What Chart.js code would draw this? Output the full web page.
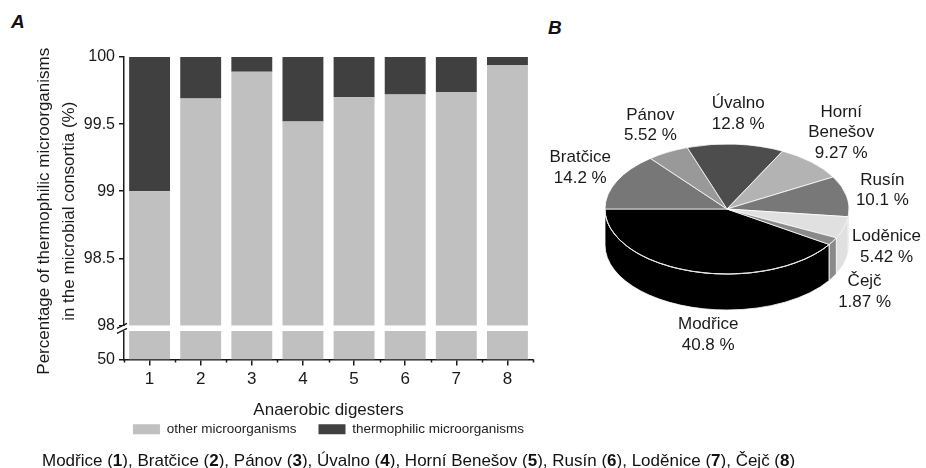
<!DOCTYPE html>
<html>
<head>
<meta charset="utf-8">
<script src="https://cdn.jsdelivr.net/npm/chart.js@4.4.1/dist/chart.umd.min.js"></script>
<style>
  html, body { margin: 0; padding: 0; background: #fff; }
  body { width: 926px; height: 468px; position: relative; overflow: hidden;
         font-family: "Liberation Sans", Arial, sans-serif; color: #111; }
  #barCanvas { position: absolute; left: 0; top: 0; }
  #pieCanvas { position: absolute; left: 540px; top: 0; }
  .panel { position: absolute; font-weight: bold; font-style: italic; font-size: 19px; }
  #caption { position: absolute; left: 42px; top: 451px; font-size: 17px; line-height: 20px;
             white-space: nowrap; color: #111; }
</style>
</head>
<body>
<div class="panel" style="left:11px; top:11px;">A</div>
<div class="panel" style="left:548px; top:17px;">B</div>
<canvas id="barCanvas" width="560" height="468"></canvas>
<canvas id="pieCanvas" width="386" height="468"></canvas>
<div id="caption"></div>

<script>
// Digesters (x categories) and the sites they belong to
const digesters = ['1', '2', '3', '4', '5', '6', '7', '8'];
const siteNames = ['Modřice', 'Bratčice', 'Pánov', 'Úvalno', 'Horní Benešov', 'Rusín', 'Loděnice', 'Čejč'];

// Share of each group in the microbial consortium (%)
const otherPct  = [99.00, 99.69, 99.89, 99.52, 99.70, 99.72, 99.74, 99.94];
const thermoPct = [1.00, 0.31, 0.11, 0.48, 0.30, 0.28, 0.26, 0.06];

// Split between the digesters of all thermophilic reads (%)
const thermoShare = [40.8, 14.2, 5.52, 12.8, 9.27, 10.1, 5.42, 1.87];

const seriesNames = ['other microorganisms', 'thermophilic microorganisms'];
const lowerTicks = [50, 75];

const UPPER_MIN = 98, UPPER_MAX = 100, LOWER_MIN = 50;
const INK = '#1a1a1a';
const FONT = '"Liberation Sans", Arial, sans-serif';
Chart.defaults.font.family = FONT;
Chart.defaults.color = INK;

// caption under both panels
document.getElementById('caption').innerHTML =
  siteNames.map((n, i) => `${n} (<b>${i + 1}</b>)`).join(', ');

// ---- Panel A: stacked bars on a broken y axis ----
const barDecor = {
  id: 'barDecor',
  afterLayout(chart) {
    // centre the legend under the plot area rather than the whole canvas
    const lg = chart.legend, ca = chart.chartArea;
    if (!lg) return;
    const shift = (ca.left + ca.right) / 2 - (lg.left + lg.right) / 2;
    lg.left += shift;
    lg.right += shift;
  },
  afterDraw(chart) {
    const { ctx, chartArea: ca, scales } = chart;
    const low = scales.yLow;
    const yb = low.top;
    ctx.save();
    // white gap between the two axis segments
    ctx.fillStyle = '#fff';
    ctx.fillRect(ca.left - 7, yb + 0.6, ca.right - ca.left + 7, 5);
    // break marks on the axis
    ctx.strokeStyle = INK;
    ctx.lineWidth = 1.4;
    ctx.beginPath();
    ctx.moveTo(ca.left - 7, yb + 3); ctx.lineTo(ca.left + 3, yb - 2);
    ctx.moveTo(ca.left - 7, yb + 8); ctx.lineTo(ca.left + 3, yb + 3);
    ctx.stroke();
    // short ticks between categories
    const step = ca.width / digesters.length;
    ctx.lineWidth = 1.5;
    ctx.beginPath();
    for (let i = 0; i <= digesters.length; i++) {
      const xp = Math.round(ca.left + i * step) + 0.5;
      ctx.moveTo(xp, ca.bottom); ctx.lineTo(xp, ca.bottom + 3);
    }
    ctx.stroke();
    // two-line y axis title
    const cy = (ca.top + ca.bottom) / 2 + 3;
    ctx.fillStyle = INK;
    ctx.font = `17px ${FONT}`;
    ctx.textAlign = 'center';
    ctx.textBaseline = 'middle';
    ctx.translate(44, cy);
    ctx.rotate(-Math.PI / 2);
    ctx.fillText('Percentage of thermophilic microorganisms', 0, 0);
    ctx.fillText('in the microbial consortia (%)', 0, 25);
    ctx.restore();
  }
};

const axisGrid = { drawOnChartArea: false, tickLength: 5, color: INK, lineWidth: 1.5 };

new Chart(document.getElementById('barCanvas'), {
  type: 'bar',
  data: {
    labels: digesters,
    datasets: [
      { label: seriesNames[0], data: otherPct.map(v => [UPPER_MIN, v]),
        backgroundColor: '#c0c0c0', yAxisID: 'y' },
      { label: seriesNames[1], data: thermoPct.map(v => [UPPER_MAX - v, UPPER_MAX]),
        backgroundColor: '#404040', yAxisID: 'y' },
      { label: 'lower segment', data: otherPct.map(v => [LOWER_MIN, Math.min(v, UPPER_MIN)]),
        backgroundColor: '#c0c0c0', yAxisID: 'yLow' }
    ]
  },
  options: {
    responsive: false,
    animation: false,
    datasets: { bar: { grouped: false, barPercentage: 0.8, categoryPercentage: 1 } },
    layout: { padding: { left: 74, right: 27, top: 57, bottom: 22 } },
    scales: {
      x: {
        type: 'category',
        offset: true,
        grid: { display: true, drawOnChartArea: false, offset: false, tickLength: 6, color: INK, lineWidth: 1.5 },
        border: { color: INK, width: 1.5 },
        ticks: { color: INK, font: { size: 17 }, padding: 4 },
        title: { display: true, text: 'Anaerobic digesters', color: INK, font: { size: 17 },
                 padding: { top: 0, bottom: -20 } },
        afterFit: s => { s.height = 41; }
      },
      yLow: {
        type: 'linear', position: 'left', stack: 'split', stackWeight: 34,
        min: LOWER_MIN, max: UPPER_MIN,
        afterBuildTicks: s => { s.ticks = lowerTicks.map(v => ({ value: v })); },
        ticks: { color: INK, font: { size: 16 }, padding: 4,
                 callback: v => (v === LOWER_MIN ? String(v) : '') },
        grid: axisGrid,
        border: { color: INK, width: 1.5 },
        afterFit: s => { s.width = 50; }
      },
      y: {
        type: 'linear', position: 'left', stack: 'split', stackWeight: 268,
        min: UPPER_MIN, max: UPPER_MAX,
        ticks: { stepSize: 0.5, color: INK, font: { size: 16 }, padding: 4,
                 callback: v => String(v) },
        grid: axisGrid,
        border: { color: INK, width: 1.5 },
        afterFit: s => { s.width = 50; }
      }
    },
    plugins: {
      tooltip: { enabled: false },
      legend: {
        position: 'bottom',
        labels: {
          filter: item => item.datasetIndex < 2,
          boxWidth: 27, boxHeight: 10, padding: 22,
          color: '#222', font: { size: 13.5 }
        }
      }
    }
  },
  plugins: [barDecor]
});

// ---- Panel B: tilted pie with a visible rim ----
const sliceGreys = ['#000000', '#777777', '#999999', '#4d4d4d', '#b3b3b3', '#787878', '#e0e0e0', '#8a8a8a'];
const PIE_TILT = 65 / 122;
const PIE_DEPTH = 36;
const LINE_H = 20.5;

const pie3d = {
  id: 'pie3d',
  beforeDatasetsDraw(chart) {
    const { ctx } = chart;
    const arcs = chart.getDatasetMeta(0).data;
    const { x: cx, y: cy, outerRadius: r } = arcs[0];
    const ry = r * PIE_TILT;
    // front walls: only the parts of each slice facing the viewer
    arcs.forEach(arc => {
      for (let k = -1; k <= 2; k++) {
        const lo = Math.max(arc.startAngle, 2 * Math.PI * k);
        const hi = Math.min(arc.endAngle, 2 * Math.PI * k + Math.PI);
        if (hi <= lo) continue;
        ctx.beginPath();
        ctx.ellipse(cx, cy, r, ry, 0, lo, hi);
        ctx.lineTo(cx + r * Math.cos(hi), cy + ry * Math.sin(hi) + PIE_DEPTH);
        ctx.ellipse(cx, cy + PIE_DEPTH, r, ry, 0, hi, lo, true);
        ctx.closePath();
        ctx.fillStyle = arc.options.backgroundColor;
        ctx.fill();
        ctx.strokeStyle = '#ffffff';
        ctx.lineWidth = 0.8;
        ctx.stroke();
      }
    });
    // squash the top face into an ellipse
    ctx.save();
    ctx.translate(cx, cy);
    ctx.scale(1, PIE_TILT);
    ctx.translate(-cx, -cy);
  },
  afterDatasetsDraw(chart) {
    const { ctx } = chart;
    ctx.restore();
    const arcs = chart.getDatasetMeta(0).data;
    const { x: cx, y: cy, outerRadius: r } = arcs[0];
    const ry = r * PIE_TILT;

    ctx.save();
    // light rim along the front edge of the top face
    ctx.strokeStyle = '#e8e8e8';
    ctx.lineWidth = 1;
    ctx.beginPath();
    ctx.ellipse(cx, cy, r, ry, 0, 0, Math.PI);
    ctx.stroke();

    // outside labels: name + share
    ctx.font = `17px ${FONT}`;
    const boxes = arcs.map((arc, i) => {
      const mid = (arc.startAngle + arc.endAngle) / 2;
      const c = Math.cos(mid), s = Math.sin(mid);
      const lines = [...siteNames[i].split(' '), `${thermoShare[i]} %`];
      const w = Math.max(...lines.map(t => ctx.measureText(t).width));
      const h = lines.length * LINE_H;
      const ax = cx + (r + 10) * c;
      const ay = cy + (ry + 10) * s + (s > 0 ? PIE_DEPTH * s : 0);
      let x = ax + c * w / 2;
      if (s > 0.9) x = (ax + cx) / 2;     // labels under the rim sit nearer the middle
      return { lines, w, h, x, y: ay + s * h / 2 };
    });
    // push overlapping labels downward
    const placed = [];
    boxes.slice().sort((a, b) => a.y - b.y).forEach(b => {
      placed.forEach(p => {
        if (Math.abs(b.x - p.x) < (b.w + p.w) / 2 &&
            Math.abs(b.y - p.y) < (b.h + p.h) / 2 + 4) {
          b.y = p.y + (b.h + p.h) / 2 + 4;
        }
      });
      placed.push(b);
    });
    ctx.fillStyle = INK;
    ctx.textAlign = 'center';
    ctx.textBaseline = 'middle';
    boxes.forEach(b => {
      b.lines.forEach((t, j) => {
        ctx.fillText(t, b.x, b.y - b.h / 2 + LINE_H * (j + 0.5));
      });
    });
    ctx.restore();
  }
};

const shareTotal = thermoShare.reduce((a, b) => a + b, 0);
new Chart(document.getElementById('pieCanvas'), {
  type: 'pie',
  data: {
    labels: siteNames,
    datasets: [{
      data: thermoShare,
      backgroundColor: sliceGreys,
      borderColor: '#ffffff',
      borderWidth: 1,
      clip: false
    }]
  },
  options: {
    responsive: false,
    animation: false,
    // first slice ends at nine o'clock, slices run clockwise
    rotation: 270 - thermoShare[0] / shareTotal * 360,
    layout: { padding: { left: 64.5, right: 76.5, top: 86.5, bottom: 136.5 } },
    plugins: { legend: { display: false }, tooltip: { enabled: false } }
  },
  plugins: [pie3d]
});
</script>
</body>
</html>
